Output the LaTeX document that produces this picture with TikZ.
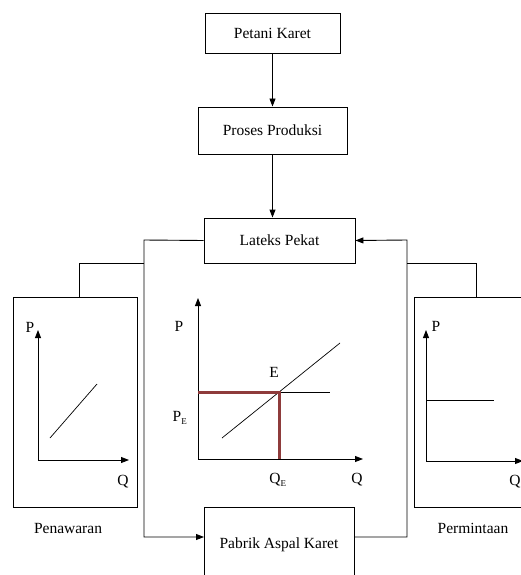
\documentclass[tikz,border=0pt]{standalone}
\usepackage{fontspec}
\setmainfont{Liberation Serif}
\usetikzlibrary{arrows.meta}
\definecolor{eqred}{HTML}{8E3B3B}
\begin{document}
\begin{tikzpicture}[x=1pt,y=-1pt,
  box/.style={draw,line width=0.9pt,inner sep=0pt},
  lbl/.style={font=\fontsize{15.5}{17}\selectfont,inner sep=0pt},
  ax/.style={line width=0.9pt,-{Triangle[length=8pt,width=6pt]}},
  con/.style={line width=0.9pt},
  arr/.style={line width=0.9pt,-{Triangle[length=8pt,width=6pt]}},
  eq/.style={line width=3pt,eqred}]
\useasboundingbox (0,0) rectangle (521,575);
\clip (0,0) rectangle (521,575);
% flow boxes
\node[box,minimum width=135pt,minimum height=40pt] (petani) at (272.5,33) {};
\node[lbl] at (petani.center) {Petani Karet};
\node[box,minimum width=149pt,minimum height=47pt] (proses) at (272.5,130.5) {};
\node[lbl] at (proses.center) {Proses Produksi};
\node[box,minimum width=151pt,minimum height=45pt] (lateks) at (279.5,240.5) {};
\node[lbl] at (lateks.center) {Lateks Pekat};
\node[box,minimum width=150pt,minimum height=80pt,anchor=north west] (pabrik) at (204,507) {};
\node[lbl] (pabriktxt) at (279,545) {Pabrik Aspal Karet};
% side boxes
\node[box,minimum width=124pt,minimum height=210pt,anchor=north west] (penaw) at (13,297) {};
\node[box,minimum width=130pt,minimum height=210pt,anchor=north west] (permin) at (414,297) {};
% coordinates
\coordinate (lj) at (144,240);
\coordinate (lb) at (144,537);
\coordinate (lm) at (144,263);
\coordinate (lt) at (79,263);
\coordinate (rj) at (407,240);
\coordinate (rb) at (407,537);
\coordinate (rm) at (407,263);
\coordinate (rt) at (476,263);
% connectors
\draw[arr] (petani.south) -- (proses.north);
\draw[arr] (proses.south) -- (proses.south |- lateks.north);
\draw[arr] (lateks.west) -- (lj) -- (lb) -- (pabrik.west |- lb);
\draw[con] (lm) -- (lt) -- (lt |- penaw.north);
\draw[arr] (pabrik.east |- rb) -- (rb) -- (rj) -- (lateks.east);
\draw[con] (rm) -- (rt) -- (rt |- permin.north);
% centre graph
\coordinate (co) at (198,459);
\draw[ax] (co) -- (198,298);
\draw[ax] (co) -- (363,459);
\node[lbl] (cp) at (179,326) {P};
\node[lbl] (cq) at (357,480) {Q};
\node[lbl] (cqe) at (278,480) {Q\textsubscript{\fontsize{9}{9}\selectfont E}};
\node[lbl] (cpe) at (180,418) {P\textsubscript{\fontsize{9}{9}\selectfont E}};
\node[lbl] (ce) at (274,372) {E};
\draw[con,line width=0.7pt] (222,438) -- (340,343);
\draw[con,line width=0.7pt] (279,392) -- (330,392);
\draw[eq] (198,392) -- (279,392);
\draw[eq] (279,390.5) -- (279,459);
% left graph
\coordinate (lo) at (38,460);
\draw[ax] (lo) -- (38,330);
\draw[ax] (lo) -- (129,460);
\node[lbl] (lp) at (30,327) {P};
\node[lbl] (lq) at (123,482) {Q};
\draw[con,line width=0.7pt] (50,438) -- (97,384);
\node[lbl] (pen) at (68,528) {Penawaran};
% right graph
\coordinate (ro) at (426,461);
\draw[ax] (ro) -- (426,330);
\draw[ax] (ro) -- (523,461);
\node[lbl] (rp) at (436,326) {P};
\node[lbl] (rq) at (515,482) {Q};
\draw[con] (426,400) -- (494,400);
\node[lbl] (per) at (473,528) {Permintaan};
\end{tikzpicture}
\end{document}
